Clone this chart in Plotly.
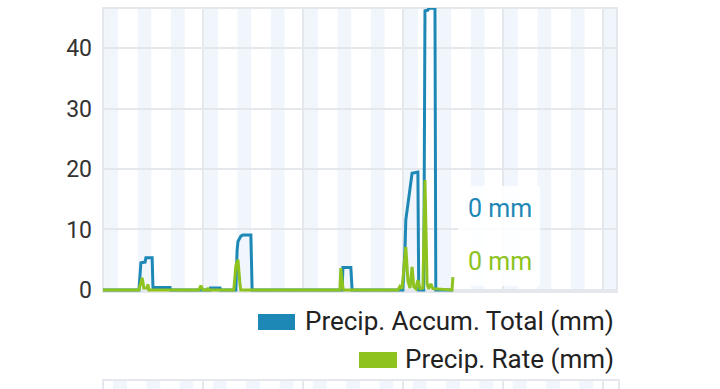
import plotly.graph_objects as go

# ---- data (x in hours from chart start) ----
accum_x = [0, 8.64, 9.1, 10.1, 10.3, 11.8, 12.0, 16.1, 16.2, 25.7, 25.8, 28.1, 28.2,
           31.9, 32.2, 32.4, 33.1, 33.6, 35.5, 35.8, 57.4, 57.6, 59.5, 59.8,
           72.0, 72.5, 72.7, 73.2, 73.7, 74.2, 75.6, 75.8, 77.0, 77.3, 78.0, 78.2,
           79.7, 79.9, 84.0]
accum_y = [0, 0, 4.5, 4.6, 5.3, 5.3, 0.4, 0.4, 0, 0, 0.3, 0.3, 0,
           0, 6.6, 8.0, 8.9, 9.1, 9.1, 0, 0, 3.7, 3.7, 0,
           0, 6.6, 11.6, 14.0, 17.0, 19.3, 19.5, 0, 0, 46.2, 46.3, 46.6,
           46.6, 0, 0]

rate_x = [0, 8.6, 9.4, 9.8, 10.6, 10.8, 11.0, 23.0, 23.5, 24.0, 24.96, 25.2, 25.4,
          31.4, 31.9, 32.4, 32.9, 33.1, 56.9, 57.1, 57.6, 57.8,
          70.8, 71.3, 71.8, 72.2, 72.7, 73.2, 73.7, 74.2, 74.6, 75.1, 75.6, 76.1,
          76.8, 77.3, 77.8, 78.2, 78.7, 79.2, 83.8, 84.0]
rate_y = [0, 0, 2.0, 0.3, 0.3, 0.9, 0, 0, 0.7, 0, 0, 0.3, 0,
          0, 4.0, 5.0, 0.8, 0, 0, 3.6, 0.3, 0,
          0, 0.6, 0.2, 3.0, 7.1, 1.5, 0.3, 3.8, 0.5, 0.2, 1.6, 0.2,
          0.3, 18.2, 1.0, 0.2, 1.0, 0.2, 0, 2.1]

y_ticks = [0, 10, 20, 30, 40]
day_ticks = [0, 24, 48, 72, 96, 120]
series_names = ["Precip. Accum. Total (mm)", "Precip. Rate (mm)"]
current_values = ["0 mm", "0 mm"]

BLUE = "#1d88b6"
GREEN = "#8dc21f"
GRID = "#e4e7eb"
BAND = "#f0f6fc"

# plot area geometry (pixels)
L, R, T, B = 103, 617, 8, 292
W, H = 720, 389
X_MAX = 123.4
Y_MIN, Y_MAX = -0.35, 46.65


def px(x):
    return (x - L) / (R - L)


def py(y):
    return (B - y) / (B - T)


fig = go.Figure()
fig.add_trace(go.Scatter(x=accum_x, y=accum_y, mode="lines", name=series_names[0],
                         line=dict(color=BLUE, width=3), hoverinfo="skip"))
fig.add_trace(go.Scatter(x=rate_x, y=rate_y, mode="lines", name=series_names[1],
                         line=dict(color=GREEN, width=3), hoverinfo="skip"))

shapes = []
# light blue bands
k = 0
while 8 * k < X_MAX:
    x0 = 8 * k + 0.3
    x1 = min(8 * k + 3.6, X_MAX)
    if x0 < X_MAX:
        shapes.append(dict(type="rect", xref="x", yref="paper", x0=x0, x1=x1, y0=0, y1=1,
                           fillcolor=BAND, line=dict(width=0), layer="below"))
    k += 1
# plot border
shapes.append(dict(type="rect", xref="paper", yref="paper", x0=0, x1=1, y0=0, y1=1,
                   line=dict(color=GRID, width=2), layer="below"))

# tooltip box
shapes.append(dict(type="rect", xref="paper", yref="paper", x0=px(458), x1=px(540),
                   y0=py(286), y1=py(186), fillcolor="rgba(255,255,255,0.85)",
                   line=dict(width=0), layer="above"))

# legend swatches
shapes.append(dict(type="rect", xref="paper", yref="paper", x0=px(258), x1=px(295),
                   y0=py(330), y1=py(314), fillcolor=BLUE, line=dict(width=0)))
shapes.append(dict(type="rect", xref="paper", yref="paper", x0=px(359), x1=px(397),
                   y0=py(368), y1=py(352), fillcolor=GREEN, line=dict(width=0)))

# top of the next chart below
shapes.append(dict(type="rect", xref="paper", yref="paper", x0=px(103), x1=px(619),
                   y0=py(410), y1=py(380), fillcolor="white",
                   line=dict(color=GRID, width=2)))
for k in range(16):
    bx = 103 + 33.3 * k + 10
    if bx + 14 < 619:
        shapes.append(dict(type="rect", xref="paper", yref="paper", x0=px(bx), x1=px(bx + 14),
                           y0=py(400), y1=py(381), fillcolor=BAND, line=dict(width=0)))
for gx in [203, 303, 403, 503, 603]:
    shapes.append(dict(type="line", xref="paper", yref="paper", x0=px(gx), x1=px(gx),
                       y0=py(400), y1=py(381), line=dict(color=GRID, width=2)))

annotations = [
    dict(xref="paper", yref="paper", x=px(616), y=py(321), xanchor="right", yanchor="middle",
         text=series_names[0], showarrow=False, font=dict(size=26, color="#222222")),
    dict(xref="paper", yref="paper", x=px(616), y=py(359), xanchor="right", yanchor="middle",
         text=series_names[1], showarrow=False, font=dict(size=26, color="#222222")),
    dict(xref="paper", yref="paper", x=px(500), y=py(208), xanchor="center", yanchor="middle",
         text=current_values[0], showarrow=False, font=dict(size=25, color=BLUE)),
    dict(xref="paper", yref="paper", x=px(500), y=py(261), xanchor="center", yanchor="middle",
         text=current_values[1], showarrow=False, font=dict(size=25, color=GREEN)),
]

fig.update_layout(
    width=W, height=H,
    margin=dict(l=L, r=W - R, t=T, b=H - B, pad=0),
    paper_bgcolor="white", plot_bgcolor="rgba(0,0,0,0)",
    showlegend=False,
    font=dict(family="Roboto", color="#333333"),
    shapes=shapes, annotations=annotations,
    xaxis=dict(range=[0, X_MAX], tickvals=day_ticks, showticklabels=False, showgrid=True,
               gridcolor=GRID, gridwidth=2, zeroline=False, ticks="", fixedrange=True),
    yaxis=dict(range=[Y_MIN, Y_MAX], tickvals=y_ticks, showgrid=True, gridcolor=GRID,
               gridwidth=2, zeroline=False, ticks="", ticklabelstandoff=10,
               tickfont=dict(size=23, color="#333333"), fixedrange=True),
)

fig.write_html("out.html", config={"displayModeBar": False},
               post_script="document.body.style.margin='0';document.body.style.overflow='hidden';")
